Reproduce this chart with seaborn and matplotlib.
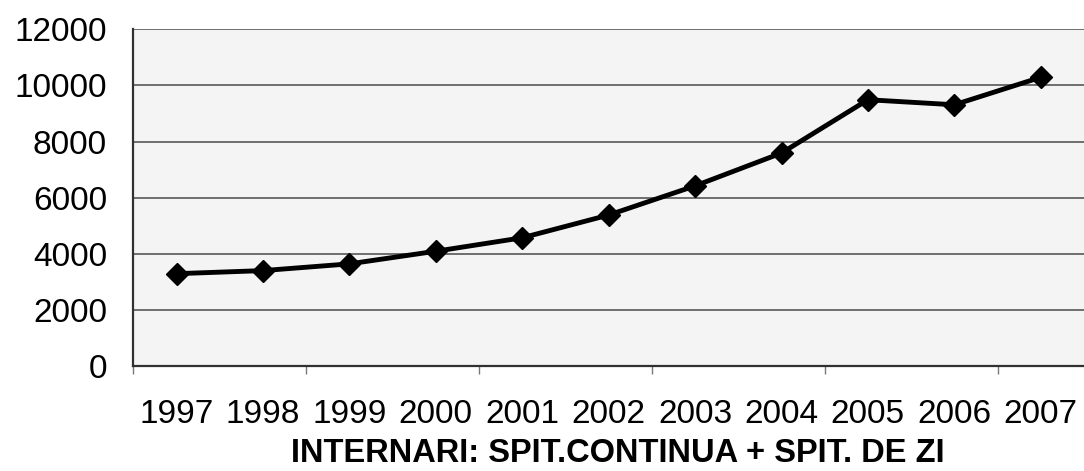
import seaborn as sns
import matplotlib.pyplot as plt
import pandas as pd
from matplotlib.ticker import FixedLocator

# ---- data ----
years = [1997, 1998, 1999, 2000, 2001, 2002, 2003, 2004, 2005, 2006, 2007]
internari = [3290, 3400, 3640, 4090, 4570, 5380, 6420, 7590, 9490, 9310, 10290]
y_ticks = [0, 2000, 4000, 6000, 8000, 10000, 12000]
year_labels = [str(y) for y in years]
title = "INTERNARI: SPIT.CONTINUA + SPIT. DE ZI"

sns.set_theme(style="white")
plt.rcParams['font.family'] = ['Liberation Sans', 'DejaVu Sans']

W, H = 1084, 471
fig = plt.figure(figsize=(W / 100, H / 100), dpi=100)
left_px, right_px, top_px, bottom_px = 133.3, 1084, 29.3, 366
ax = fig.add_axes([left_px / W, 1 - bottom_px / H,
                   (right_px - left_px) / W, (bottom_px - top_px) / H])
ax.set_facecolor('#f4f4f4')

df = pd.DataFrame({'an': years, 'internari': internari})
sns.lineplot(data=df, x='an', y='internari', ax=ax, color='black',
             linewidth=3.5, marker='D', markersize=11,
             markeredgecolor='black', markeredgewidth=1)

ax.set_xlim(1996.5, 2007.5)
ax.set_ylim(0, 12000)
ax.set_yticks(y_ticks)
ax.set_xticks(years)
ax.set_xticklabels(year_labels)
ax.set_xlabel('')
ax.set_ylabel('')

ax.yaxis.grid(True, color='#4a4a4a', linewidth=1.1)
ax.xaxis.grid(False)
ax.set_axisbelow(True)

for s in ['top', 'right']:
    ax.spines[s].set_visible(False)
for s in ['left', 'bottom']:
    ax.spines[s].set_visible(True)
    ax.spines[s].set_color('#303030')
    ax.spines[s].set_linewidth(1.6)

ax.tick_params(axis='both', which='major', length=0, labelsize=24, colors='black')
ax.tick_params(axis='x', which='major', pad=24)
ax.tick_params(axis='y', which='major', pad=19)
ax.xaxis.set_minor_locator(FixedLocator([1996.5, 1998.5, 2000.5, 2002.5, 2004.5, 2006.5]))
ax.tick_params(axis='x', which='minor', bottom=True, length=6, width=1,
               color='#777777', direction='out')

fig.text(617.5 / W, 1 - 462.5 / H, title, ha='center', va='baseline',
         fontsize=23.5, fontweight='bold', color='black')

fig.savefig('out.png', dpi=100)
